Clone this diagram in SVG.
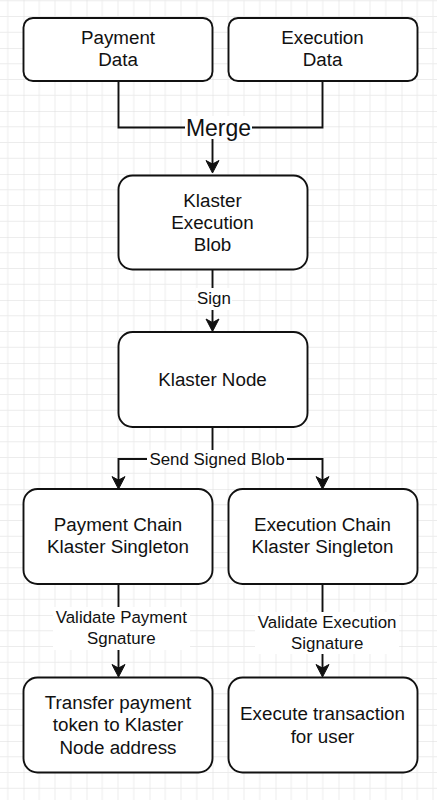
<svg xmlns="http://www.w3.org/2000/svg" width="437" height="800" viewBox="0 0 437 800">
<defs>
<pattern id="grid" patternUnits="userSpaceOnUse" x="23.5" y="-15" width="63" height="63">
<path d="M15.75 0V63M31.5 0V63M47.25 0V63M0 15.75H63M0 31.5H63M0 47.25H63" stroke="#ececec" stroke-width="1" fill="none"/>
<path d="M0 0V63M0 0H63" stroke="#dcdcdc" stroke-width="1" fill="none"/>
</pattern>
<marker id="arr" markerUnits="userSpaceOnUse" markerWidth="30" markerHeight="30" refX="0" refY="0" orient="auto" viewBox="-15 -15 30 30" overflow="visible">
<path d="M9,0 L-3.5,-6.5 L0,0 L-3.5,6.5 Z" fill="#111" stroke="#111" stroke-width="1" stroke-linejoin="miter"/>
</marker>
<style>
.box{fill:#fff;stroke:#111;stroke-width:1.9}
.t{font-family:"Liberation Sans",Helvetica,Arial,sans-serif;font-size:18.8px;fill:#111;text-anchor:middle}
.e{font-family:"Liberation Sans",Helvetica,Arial,sans-serif;font-size:16.9px;fill:#111;text-anchor:middle}
.m{font-family:"Liberation Sans",Helvetica,Arial,sans-serif;font-size:23px;fill:#111;text-anchor:middle}
.ln{fill:none;stroke:#111;stroke-width:1.9}
.bg{fill:#fff}
</style>
</defs>
<rect x="0" y="0" width="437" height="800" fill="#fff"/>
<rect x="0" y="0" width="437" height="800" fill="url(#grid)"/>

<g id="connectors">
<path class="ln" d="M118.5 81V127.5H322.5V81"/>
<path class="ln" d="M212.5 127.5V164" marker-end="url(#arr)"/>
<path class="ln" d="M212.5 269V322.5" marker-end="url(#arr)"/>
<path class="ln" d="M212.5 427V459"/>
<path class="ln" d="M118.5 480V459H322.5V480"/>
<path class="ln" d="M118.5 480V480.1" marker-end="url(#arr)"/>
<path class="ln" d="M322.5 480V480.1" marker-end="url(#arr)"/>
<path class="ln" d="M118.5 584V668" marker-end="url(#arr)"/>
<path class="ln" d="M322.5 584V668" marker-end="url(#arr)"/>
<rect class="bg" x="185" y="116" width="67" height="23"/>
<text class="m" x="218.5" y="135.5">Merge</text>
<rect class="bg" x="196" y="288" width="36" height="22"/>
<text class="e" x="214" y="303.5">Sign</text>
<rect class="bg" x="147" y="450" width="140" height="18"/>
<text class="e" x="217" y="465">Send Signed Blob</text>
<rect class="bg" x="53" y="607" width="137" height="43"/>
<text class="e" x="121.3" y="622.5">Validate Payment</text>
<text class="e" x="121.3" y="643.5">Sgnature</text>
<rect class="bg" x="255" y="612" width="144" height="42"/>
<text class="e" x="327.2" y="627.5">Validate Execution</text>
<text class="e" x="327.2" y="648.5">Signature</text>
</g>

<g id="payment-data">
<rect class="box" x="23.5" y="18" width="189" height="63" rx="9.5"/>
<text class="t" x="118" y="43.5">Payment</text>
<text class="t" x="118" y="66">Data</text>
</g>
<g id="execution-data">
<rect class="box" x="228.5" y="18" width="189" height="63" rx="9.5"/>
<text class="t" x="322.5" y="43.5">Execution</text>
<text class="t" x="322.5" y="66">Data</text>
</g>
<g id="klaster-execution-blob">
<rect class="box" x="118.5" y="175.5" width="189" height="94" rx="14"/>
<text class="t" x="212.5" y="206.5">Klaster</text>
<text class="t" x="212.5" y="228.5">Execution</text>
<text class="t" x="212.5" y="250.5">Blob</text>
</g>
<g id="klaster-node">
<rect class="box" x="118.5" y="332" width="189" height="95" rx="14"/>
<text class="t" x="212.5" y="385.5">Klaster Node</text>
</g>
<g id="payment-chain">
<rect class="box" x="23.5" y="489" width="189" height="95" rx="14"/>
<text class="t" x="118" y="530.5">Payment Chain</text>
<text class="t" x="118" y="553">Klaster Singleton</text>
</g>
<g id="execution-chain">
<rect class="box" x="228.5" y="489" width="189" height="95" rx="14"/>
<text class="t" x="322.5" y="530.5">Execution Chain</text>
<text class="t" x="322.5" y="553">Klaster Singleton</text>
</g>
<g id="transfer-payment">
<rect class="box" x="23.5" y="677.5" width="189" height="95" rx="14"/>
<text class="t" x="118" y="709">Transfer payment</text>
<text class="t" x="118" y="731">token to Klaster</text>
<text class="t" x="118" y="753.5">Node address</text>
</g>
<g id="execute-transaction">
<rect class="box" x="228.5" y="677.5" width="189" height="95" rx="14"/>
<text class="t" x="322.5" y="720">Execute transaction</text>
<text class="t" x="322.5" y="742.5">for user</text>
</g>
</svg>
